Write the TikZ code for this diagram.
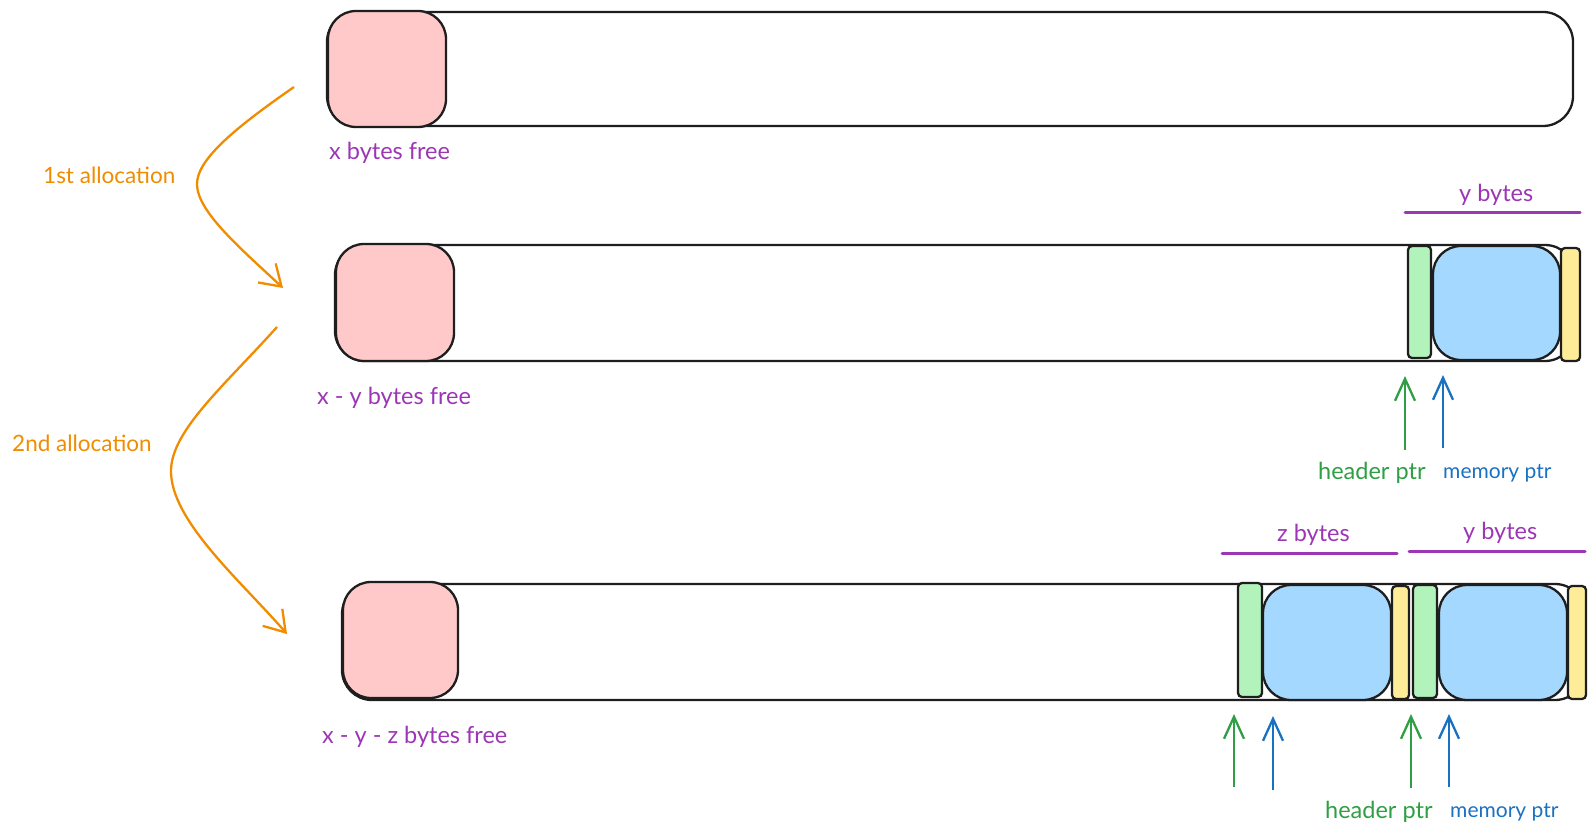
\documentclass[tikz,border=0pt]{standalone}
\usepackage{fontspec}
\setmainfont{Lato}
\usetikzlibrary{arrows.meta}
\definecolor{stroke}{HTML}{1E1E1E}
\definecolor{pinkf}{HTML}{FFC9C9}
\definecolor{greenf}{HTML}{B2F2BB}
\definecolor{bluef}{HTML}{A5D8FF}
\definecolor{yellowf}{HTML}{FFEC99}
\definecolor{purp}{HTML}{9C36B5}
\definecolor{orng}{HTML}{F08C00}
\definecolor{grn}{HTML}{2F9E44}
\definecolor{blu}{HTML}{1971C2}
\begin{document}
\begin{tikzpicture}[x=1pt,y=-1pt,
  box/.style={draw=stroke, line width=2.3pt, rounded corners=#1, anchor=north west,
    inner sep=0pt, outer sep=0pt},
  box/.default=5pt,
  lbl/.style={anchor=west, inner sep=0pt, font=\fontsize{23.5}{28}\selectfont},
  memlbl/.style={lbl, font=\fontsize{21}{25}\selectfont},
  alloclbl/.style={lbl, font=\fontsize{22.5}{27}\selectfont},
  ptr/.style={line width=2.3pt, -{Straight Barb[length=22pt,width=20pt,line width=2.3pt]}},
  flow/.style={draw=orng, line width=2.3pt, -{Straight Barb[length=20pt,width=26pt,line width=2.3pt]}},
  span/.style={draw=purp, line width=3pt, line cap=round}]
\useasboundingbox (0,0) rectangle (1595,834);
% ---- bar 1
\node[box=30pt, fill=white, minimum width=1246pt, minimum height=114pt] (bar1) at (327,12) {};
\node[box=28pt, fill=pinkf, minimum width=118pt, minimum height=116pt] (pink1) at (328,11) {};
\node[lbl, text=purp] (free1) at (329,153) {x bytes free};
% ---- bar 2
\node[box=30pt, fill=white, minimum width=1240pt, minimum height=116pt] (bar2) at (335,245) {};
\node[box=28pt, fill=pinkf, minimum width=118pt, minimum height=117pt] (pink2) at (336,244) {};
\node[box=4pt, fill=greenf, minimum width=23pt, minimum height=112pt] (hdr2) at (1408,246) {};
\node[box=28pt, fill=bluef, minimum width=127pt, minimum height=114pt] (mem2) at (1433,246) {};
\node[box=4pt, fill=yellowf, minimum width=19pt, minimum height=113pt] (ftr2) at (1561,248) {};
\node[lbl, text=purp] (free2) at (317,398) {x - y bytes free};
\node[lbl, text=purp] (yb2) at (1459,195) {y bytes};
\coordinate (ys2a) at (1405,213);
\coordinate (ys2b) at (1580,213);
\draw[span] (ys2a) -- (ys2b);
\coordinate (hp2) at (1405,450);
\coordinate (hp2t) at (1405,376);
\coordinate (mp2) at (1443,448);
\coordinate (mp2t) at (1443,375);
\draw[ptr, grn] (hp2) -- (hp2t);
\draw[ptr, blu] (mp2) -- (mp2t);
\node[lbl, text=grn] (hl2) at (1318,473) {header ptr};
\node[memlbl, text=blu] (ml2) at (1443,473) {memory ptr};
% ---- bar 3
\node[box=30pt, fill=white, minimum width=1243pt, minimum height=116pt] (bar3) at (342,584) {};
\node[box=28pt, fill=pinkf, minimum width=115pt, minimum height=116pt] (pink3) at (343,582) {};
\node[box=4pt, fill=greenf, minimum width=24pt, minimum height=114pt] (hdr3a) at (1238,583) {};
\node[box=28pt, fill=bluef, minimum width=128pt, minimum height=115pt] (mem3a) at (1263,585) {};
\node[box=4pt, fill=yellowf, minimum width=17pt, minimum height=113pt] (ftr3a) at (1392,586) {};
\node[box=4pt, fill=greenf, minimum width=24pt, minimum height=113pt] (hdr3b) at (1413,585) {};
\node[box=28pt, fill=bluef, minimum width=128pt, minimum height=115pt] (mem3b) at (1439,585) {};
\node[box=4pt, fill=yellowf, minimum width=18pt, minimum height=113pt] (ftr3b) at (1568,586) {};
\node[lbl, text=purp] (free3) at (322,737) {x - y - z bytes free};
\node[lbl, text=purp] (zb3) at (1277,535) {z bytes};
\node[lbl, text=purp] (yb3) at (1463,533) {y bytes};
\coordinate (zs3a) at (1222,553);
\coordinate (zs3b) at (1397,553);
\coordinate (ys3a) at (1409,551);
\coordinate (ys3b) at (1585,551);
\draw[span] (zs3a) -- (zs3b);
\draw[span] (ys3a) -- (ys3b);
\coordinate (hp3a) at (1234,787);
\coordinate (hp3at) at (1234,714);
\coordinate (mp3a) at (1273,790);
\coordinate (mp3at) at (1273,716);
\coordinate (hp3b) at (1411,788);
\coordinate (hp3bt) at (1411,714);
\coordinate (mp3b) at (1449,787);
\coordinate (mp3bt) at (1449,714);
\draw[ptr, grn] (hp3a) -- (hp3at);
\draw[ptr, blu] (mp3a) -- (mp3at);
\draw[ptr, grn] (hp3b) -- (hp3bt);
\draw[ptr, blu] (mp3b) -- (mp3bt);
\node[lbl, text=grn] (hl3) at (1325,812) {header ptr};
\node[memlbl, text=blu] (ml3) at (1450,812) {memory ptr};
% ---- allocation arrows
\coordinate (a1s) at (294,87);
\coordinate (a1m) at (197,185);
\coordinate (a1e) at (283,288);
\draw[flow] (a1s) .. controls (235,128) and (196,160) .. (a1m)
  .. controls (198,212) and (240,248) .. (a1e);
\node[alloclbl, text=orng] (al1) at (43,175) {1st allocation};
\coordinate (a2s) at (277,327);
\coordinate (a2m) at (171,470);
\coordinate (a2e) at (287,634);
\draw[flow] (a2s) .. controls (225,385) and (172,430) .. (a2m)
  .. controls (170,520) and (240,580) .. (a2e);
\node[alloclbl, text=orng] (al2) at (12,443) {2nd allocation};
\end{tikzpicture}
\end{document}
